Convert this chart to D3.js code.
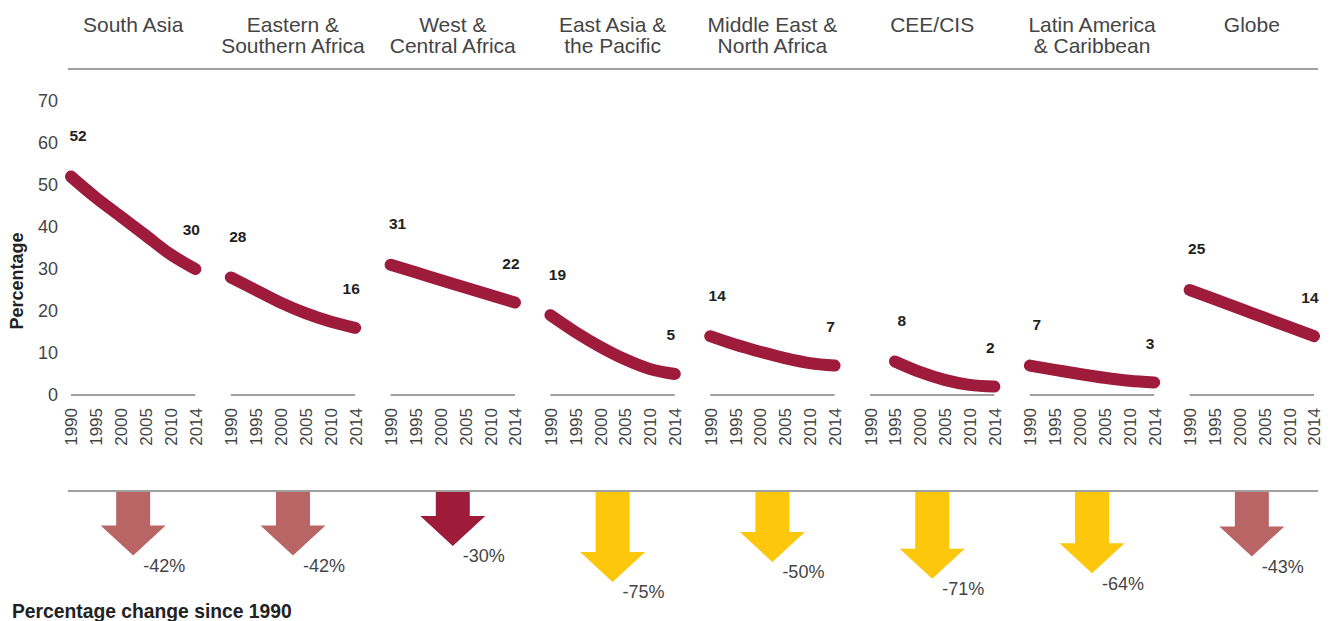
<!DOCTYPE html>
<html>
<head>
<meta charset="utf-8">
<script src="https://cdn.jsdelivr.net/npm/d3@7"></script>
<style>
  body { margin: 0; background: #fff; }
  svg text { font-family: "Liberation Sans", Arial, Helvetica, sans-serif; }
</style>
</head>
<body>
<svg id="chart" width="1331" height="621"></svg>
<script>
// Region headers (a "|" marks a line break)
const regions = [
  "South Asia",
  "Eastern &|Southern Africa",
  "West &|Central Africa",
  "East Asia &|the Pacific",
  "Middle East &|North Africa",
  "CEE/CIS",
  "Latin America|& Caribbean",
  "Globe"
];

// Year categories on each small panel
const years = ["1990", "1995", "2000", "2005", "2010", "2014"];

// Percentage values per region, one per year (null = no estimate)
const southAsia     = [52, 47, 42.5, 38, 33.5, 30];
const easternAfrica = [28, 25, 22, 19.5, 17.5, 16];
const westAfrica    = [31, 29.2, 27.4, 25.6, 23.8, 22];
const eastAsia      = [19, 15, 11.5, 8.5, 6.2, 5];
const middleEast    = [14, 12, 10.3, 8.8, 7.6, 7];
const ceeCis        = [null, 8, 5.5, 3.6, 2.4, 2];
const latinAmerica  = [7, 6, 5, 4.1, 3.4, 3];
const globe         = [25, 22.8, 20.6, 18.4, 16.2, 14];

// Percentage change since 1990
const changes = [-42, -42, -30, -75, -50, -71, -64, -43];

// Y axis tick values
const yTicks = [0, 10, 20, 30, 40, 50, 60, 70];

const series = [southAsia, easternAfrica, westAfrica, eastAsia, middleEast, ceeCis, latinAmerica, globe];

const svg = d3.select("#chart");

const lineColor = "#9e1b3c";
const ruleColor = "#808080";
const textColor = "#454545";

// Panel placement and scales
const panel = d3.scaleBand().domain(regions).range([71, 1314]).paddingInner(0.222).paddingOuter(0);
const x = d3.scalePoint().domain(years).range([0, panel.bandwidth()]);
const y = d3.scaleLinear().domain([0, 70]).range([395, 101]);

// Arrow length grows with the size of the drop
const arrowLen = d3.scaleLinear().domain([0, -100]).range([30, 110]);
const arrowColor = d3.scaleThreshold().domain([-49.9, -35]).range(["#fdc70c", "#b96566", "#9e1b3a"]);

// Horizontal rules under the headers and above the arrows
const ruleX0 = 68, ruleX1 = 1318;
svg.append("line").attr("x1", ruleX0).attr("x2", ruleX1).attr("y1", 69).attr("y2", 69)
  .attr("stroke", ruleColor).attr("stroke-width", 1.5);
svg.append("line").attr("x1", ruleX0).attr("x2", ruleX1).attr("y1", 491).attr("y2", 491)
  .attr("stroke", ruleColor).attr("stroke-width", 1.5);

// Y axis
const yAxis = svg.append("g").attr("transform", "translate(58,0)")
  .call(d3.axisLeft(y).tickValues(yTicks).tickSize(0).tickPadding(0));
yAxis.select(".domain").remove();
yAxis.selectAll("text").attr("font-size", 18).attr("fill", textColor)
  .style("font-family", '"Liberation Sans", Arial, sans-serif');

svg.append("text")
  .attr("transform", "translate(23,281) rotate(-90)")
  .attr("text-anchor", "middle")
  .attr("font-size", 18).attr("font-weight", "bold").attr("fill", "#222")
  .text("Percentage");

// Headers
const headers = svg.append("g").selectAll("text").data(regions).join("text")
  .attr("x", d => panel(d) + panel.bandwidth() / 2)
  .attr("y", 25)
  .attr("text-anchor", "middle")
  .attr("font-size", 21)
  .attr("fill", textColor);
headers.each(function (d) {
  const t = d3.select(this);
  d.split("|").forEach((part, i) => {
    t.append("tspan").attr("x", panel(d) + panel.bandwidth() / 2)
      .attr("dy", i === 0 ? "0.35em" : 21).text(part);
  });
});

const line = d3.line()
  .defined(d => d != null)
  .x((d, i) => x(years[i]))
  .y(d => y(d))
  .curve(d3.curveMonotoneX);

regions.forEach((r, k) => {
  const g = svg.append("g").attr("transform", `translate(${panel(r)},0)`);
  const vals = series[k];

  // Baseline
  g.append("line").attr("x1", 0).attr("x2", panel.bandwidth())
    .attr("y1", y(0)).attr("y2", y(0))
    .attr("stroke", ruleColor).attr("stroke-width", 1.5);

  // Year ticks
  const xa = g.append("g").attr("transform", `translate(0,${y(0)})`)
    .call(d3.axisBottom(x).tickSize(0));
  xa.select(".domain").remove();
  xa.selectAll("text")
    .attr("transform", "rotate(-90)")
    .attr("x", -13).attr("y", 0).attr("dy", "0.35em")
    .attr("text-anchor", "end")
    .attr("font-size", 17).attr("fill", textColor)
    .style("font-family", '"Liberation Sans", Arial, sans-serif');

  // Trend line
  g.append("path").datum(vals)
    .attr("d", line)
    .attr("fill", "none")
    .attr("stroke", lineColor)
    .attr("stroke-width", 12)
    .attr("stroke-linecap", "round")
    .attr("stroke-linejoin", "round");

  // First and last value labels
  const i0 = vals.findIndex(v => v != null);
  const i1 = vals.length - 1;
  g.append("text")
    .attr("x", x(years[i0]) + 7).attr("y", y(vals[i0]) - 41)
    .attr("dy", "0.35em").attr("text-anchor", "middle")
    .attr("font-size", 15.5).attr("font-weight", "bold").attr("fill", "#231f20")
    .text(vals[i0]);
  g.append("text")
    .attr("x", x(years[i1]) - 4).attr("y", y(vals[i1]) - 39)
    .attr("dy", "0.35em").attr("text-anchor", "middle")
    .attr("font-size", 15.5).attr("font-weight", "bold").attr("fill", "#231f20")
    .text(vals[i1]);

  // Change arrow
  const cx = panel.bandwidth() / 2;
  const top = 492;
  const tip = top + arrowLen(changes[k]);
  const headH = 30, shaftW = 17, headW = 32.5;
  const pts = [
    [cx - shaftW, top], [cx + shaftW, top], [cx + shaftW, tip - headH],
    [cx + headW, tip - headH], [cx, tip], [cx - headW, tip - headH], [cx - shaftW, tip - headH]
  ];
  g.append("path")
    .attr("d", d3.line()(pts) + "Z")
    .attr("fill", arrowColor(changes[k]));
  g.append("text")
    .attr("x", cx + 31).attr("y", tip + 10)
    .attr("dy", "0.35em").attr("text-anchor", "middle")
    .attr("font-size", 18).attr("fill", textColor)
    .text(changes[k] + "%");
});

svg.append("text")
  .attr("x", 12).attr("y", 611).attr("dy", "0.35em")
  .attr("font-size", 19.3).attr("font-weight", "bold").attr("fill", "#222")
  .text("Percentage change since 1990");
</script>
</body>
</html>
